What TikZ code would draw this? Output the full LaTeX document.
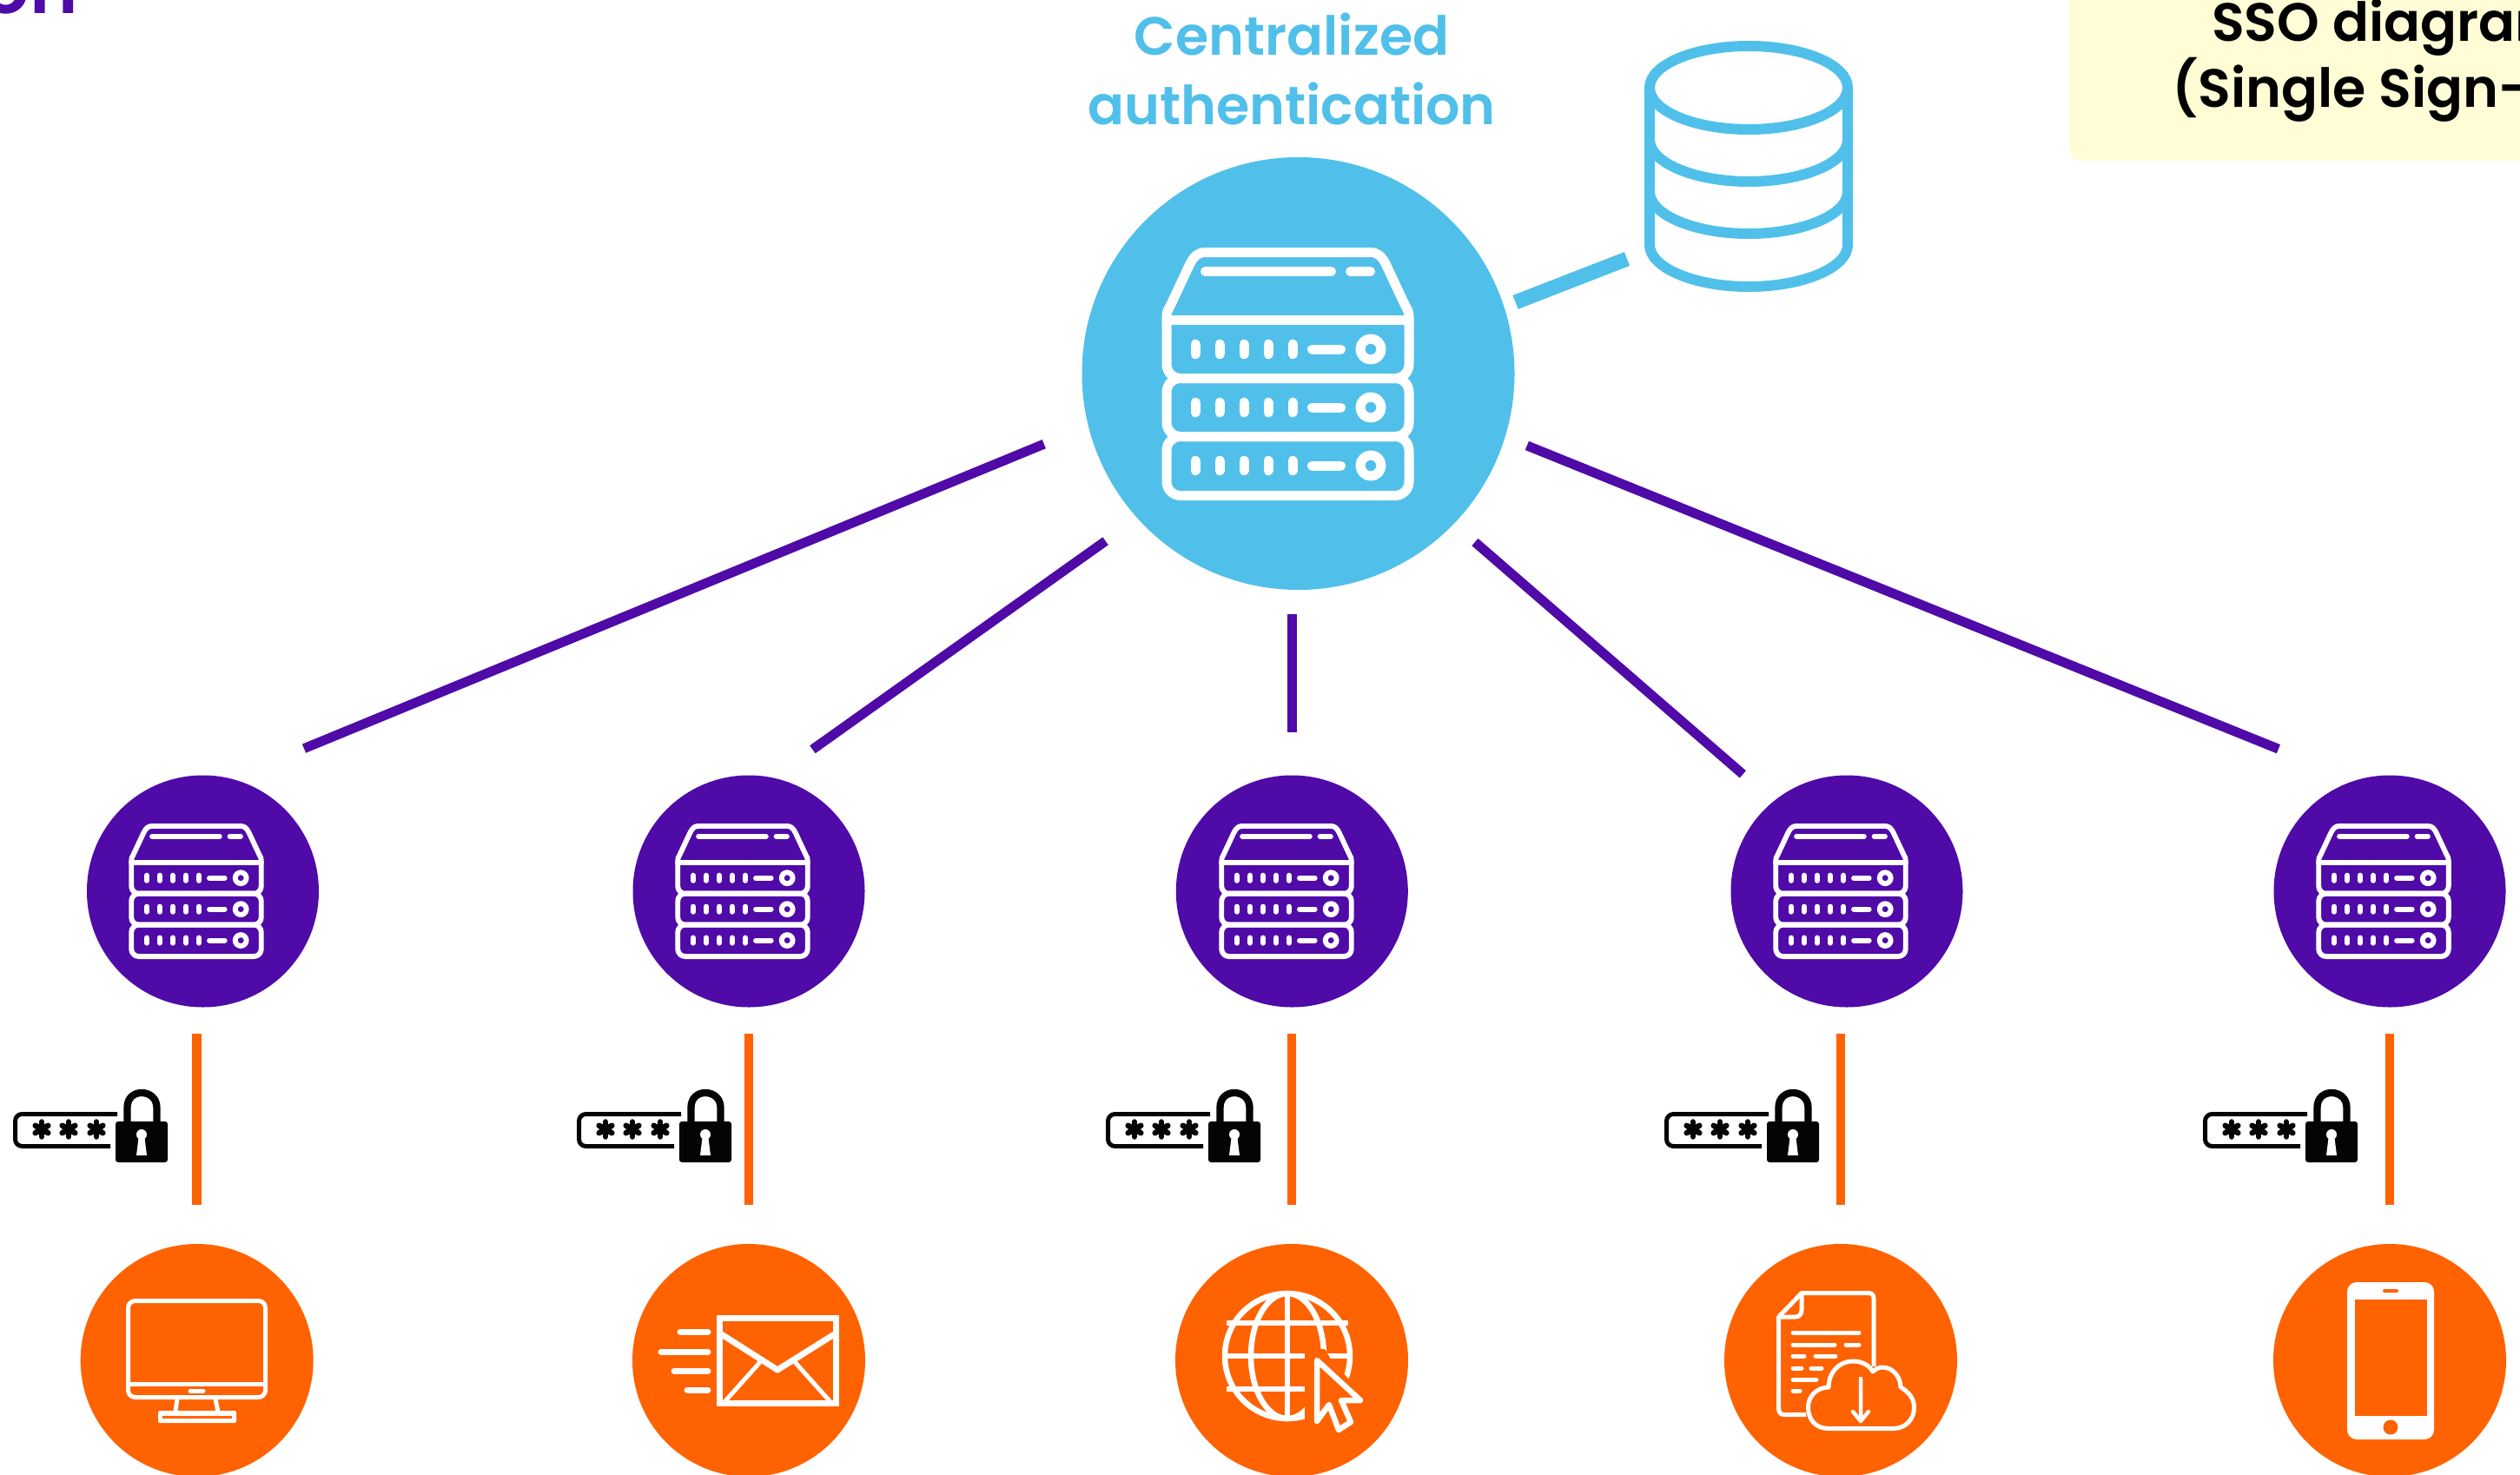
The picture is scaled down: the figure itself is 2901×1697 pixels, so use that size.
\documentclass[tikz,border=0pt]{standalone}
\usepackage{fontspec}
\setmainfont{Poppins}
\newfontfamily\semib{Poppins SemiBold}
\definecolor{ssoblue}{HTML}{50C0EA}
\definecolor{ssopurple}{HTML}{4F0AA8}
\definecolor{ssoorange}{HTML}{FF6200}
\definecolor{ssoyellow}{HTML}{FFFCD6}
\definecolor{ssoblack}{HTML}{030504}
\tikzset{
  x=1pt,y=-1pt,
  hubdisc/.style={circle,fill=ssoblue,draw=none,minimum size=498pt,inner sep=0pt},
  appdisc/.style={circle,fill=ssopurple,draw=none,minimum size=267pt,inner sep=0pt},
  clientdisc/.style={circle,fill=ssoorange,draw=none,minimum size=268pt,inner sep=0pt},
  purpleconn/.style={draw=ssopurple,line width=11pt},
  orangeconn/.style={draw=ssoorange,line width=10.5pt},
  dbconn/.style={draw=ssoblue,line width=17pt},
  wline/.style={draw=white,line width=5pt,line cap=round,line join=round},
  dbline/.style={draw=ssoblue,line width=12pt,line join=round},
  pics/serverpic/.style={code={
    \begin{scope}[scale=#1,draw=white,line width=#1*11pt,line cap=round,line join=round]
      \draw (-139.5,-62) -- (-139.5,-66) .. controls (-139.5,-71) and (-138,-74) .. (-135.5,-78) -- (-113,-126)
        .. controls (-108,-136) and (-103,-140) .. (-95,-140) -- (95,-140)
        .. controls (103,-140) and (108,-136) .. (113,-126) -- (135.5,-78)
        .. controls (138,-74) and (139.5,-71) .. (139.5,-66) -- (139.5,-62);
      \draw[rounded corners=#1*16pt] (-139.5,-62) -- (-139.5,5) -- (139.5,5) -- (139.5,-62);
      \draw (-139.5,-62) -- (139.5,-62);
      \draw[rounded corners=#1*16pt] (-139.5,5) rectangle (139.5,72);
      \draw[rounded corners=#1*16pt] (-139.5,72) rectangle (139.5,140);
      \draw (-95,-118) -- (50,-118) (72,-118) -- (95,-118);
      \foreach \yy in {-28.5,38.5,105.5}{
        \foreach \xx in {-106.5,-78.5,-50.5,-22.5,5.5}{
          \draw (\xx,\yy-5.8) -- (\xx,\yy+5.8);
        }
        \draw (28,\yy) -- (61,\yy);
        \draw[line cap=butt] (95.5,\yy) circle[radius=12];
      }
    \end{scope}
  }},
  pics/passlock/.style={code={
    \fill[ssoblack,rounded corners=3pt] (-60,1291) rectangle (0,1338);
    \draw[ssoblack,line width=8.3pt] (-46.5,1293) -- (-46.5,1275) .. controls (-46.5,1264) and (-39,1258) .. (-30,1258)
       .. controls (-21,1258) and (-12.5,1264) .. (-12.5,1275) -- (-12.5,1293);
    \fill[white] (-30,1306) circle[radius=6];
    \fill[white] (-33,1306) -- (-27,1306) -- (-24,1330) -- (-36,1330) -- cycle;
    \draw[ssoblack,line width=5pt,rounded corners=8pt] (-58,1282.5) -- (-175.5,1282.5) -- (-175.5,1319.5) -- (-66,1319.5);
    \foreach \ax in {-145,-114,-82}{
      \foreach \an in {0,60,120}{
        \draw[ssoblack,line width=6.5pt,line cap=round] ({\ax-8.5*cos(\an+90)},{1300-8.5*sin(\an+90)}) -- ({\ax+8.5*cos(\an+90)},{1300+8.5*sin(\an+90)});
      }
    }
  }}
}
\begin{document}
\begin{tikzpicture}
\clip (0,0) rectangle (2901,1697);
\useasboundingbox (0,0) rectangle (2901,1697);
\fill[white] (0,0) rectangle (2901,1697);

% title fragments
\node[anchor=base east,text=ssopurple,font=\semib\fontsize{84}{84}\selectfont,inner sep=0pt] (titlefrag) at (90,16) {on};
\fill[ssoyellow,rounded corners=13pt] (2382,-40) rectangle (2960,185);
\node[anchor=base west,font=\semib\fontsize{62}{62}\selectfont,inner sep=0pt] (ssoa) at (2546,47) {SSO diagram};
\node[anchor=base west,font=\semib\fontsize{62}{62}\selectfont,inner sep=0pt] (ssob) at (2500,123) {(Single Sign-On)};

\node[align=center,anchor=base,text=ssoblue,font=\semib\fontsize{62}{80}\selectfont,inner sep=0pt] (hubtitle) at (1487,143) {Centralized\\authentication};

% database
\draw[dbline] (2013,101) ellipse[x radius=114,y radius=48];
\draw[dbline] (1899,101) -- (1899,282) .. controls (1899,308) and (1950,330) .. (2013,330) .. controls (2076,330) and (2127,308) .. (2127,282) -- (2127,101);
\draw[dbline] (1899,161) .. controls (1899,187) and (1950,209) .. (2013,209) .. controls (2076,209) and (2127,187) .. (2127,161);
\draw[dbline] (1899,221) .. controls (1899,247) and (1950,269) .. (2013,269) .. controls (2076,269) and (2127,247) .. (2127,221);

% nodes
\node[hubdisc] (hub) at (1494.5,430) {};
\node[appdisc] (s1) at (233.5,1026) {};
\node[appdisc] (s2) at (862,1026) {};
\node[appdisc] (s3) at (1487.3,1026) {};
\node[appdisc] (s4) at (2126,1026) {};
\node[appdisc] (s5) at (2751,1026) {};
\node[clientdisc] (c1) at (226.7,1566) {};
\node[clientdisc] (c2) at (862,1566) {};
\node[clientdisc] (c3) at (1487,1566) {};
\node[clientdisc] (c4) at (2119,1566) {};
\node[clientdisc] (c5) at (2751,1566) {};
\coordinate (dbend) at (1873,298);

% connectors
\draw[dbconn,shorten <=14pt] (hub.18) -- (dbend);
\path[purpleconn,shorten <=55pt,shorten >=91pt] (hub.194.2) -- (s1.76.7);
\path[purpleconn,shorten <=45pt,shorten >=56pt] (hub.222.2) -- (s2.78.4);
\path[purpleconn,shorten <=27.5pt,shorten >=49pt] (s3.north |- hub.south) -- (s3.north);
\path[purpleconn,shorten <=32pt,shorten >=47pt] (hub.316.3) -- (s4.129.8);
\path[purpleconn,shorten <=27pt,shorten >=96pt] (hub.343.2) -- (s5.107);
\foreach \i in {1,...,5}{
  \path[orangeconn,shorten <=45pt,shorten >=30pt] (c\i.north) -- (c\i.north |- s\i.south);
}

% server icons
\pic at (1482.5,430.5) {serverpic=1};
\pic at (226,1026) {serverpic=0.536};
\pic at (855,1026) {serverpic=0.536};
\pic at (1481,1026) {serverpic=0.536};
\pic at (2119,1026) {serverpic=0.536};
\pic at (2744,1026) {serverpic=0.536};

% password locks
\pic at (193,0) {passlock};
\pic at (842,0) {passlock};
\pic at (1451,0) {passlock};
\pic at (2094,0) {passlock};
\pic at (2714,0) {passlock};

% monitor
\draw[wline,rounded corners=8pt] (147.5,1497.5) rectangle (305.5,1608.5);
\draw[wline,line cap=butt] (147.5,1593) -- (305.5,1593);
\draw[wline,line width=5pt] (219,1601) -- (234,1601);
\draw[wline,line cap=butt] (204,1610) -- (202,1625);
\draw[wline,line cap=butt] (248,1610) -- (251,1625);
\fill[white,rounded corners=2pt] (182,1624) rectangle (272,1638);
\fill[ssoorange] (187,1630) rectangle (267,1633);

% mail
\draw[wline,line width=7pt,line join=miter] (828.5,1517.5) rectangle (962.5,1615.5);
\draw[wline,line width=7pt,line cap=butt,line join=round] (829,1535) -- (895,1577) -- (962,1535);
\draw[wline,line width=5pt,line cap=butt] (875,1568) -- (833,1615);
\draw[wline,line width=5pt,line cap=butt] (915,1568) -- (957,1615);
\draw[wline,line width=7pt] (783,1533) -- (815,1533) (761,1556) -- (815,1556) (776,1578) -- (815,1578) (791,1600) -- (815,1600);

% globe
\begin{scope}[draw=white,line width=6.5pt]
\draw (1482,1561) circle[radius=72];
\draw (1482,1561) ellipse[x radius=42,y radius=72];
\draw (1482,1489) -- (1482,1633);
\draw (1412,1523) -- (1552,1523) (1410,1561) -- (1554,1561) (1412,1599) -- (1552,1599);
\end{scope}
\fill[ssoorange] (1502,1553) -- (1525,1553) -- (1534,1568) -- (1555,1590) -- (1580,1590) -- (1580,1660) -- (1502,1660) -- cycle;
\draw[wline,line width=6.5pt,line join=round] (1516,1566) -- (1516,1636) -- (1530,1617) -- (1541,1646) -- (1555,1637) -- (1544,1612) -- (1566,1612) -- cycle;

% document with cloud
\draw[wline,line cap=butt] (2157,1573) -- (2157,1495) .. controls (2157,1491) and (2155,1488.5) .. (2151,1488.5) -- (2074,1488.5) -- (2047.5,1516) -- (2047.5,1621) .. controls (2047.5,1626) and (2050,1628.5) .. (2054,1628.5) -- (2079,1628.5);
\draw[wline,line cap=butt] (2074,1488.5) -- (2074,1508) .. controls (2074,1513) and (2071,1516) .. (2067,1516) -- (2047.5,1516);
\draw[wline] (2064,1534) -- (2140,1534) (2064,1548) -- (2112,1548) (2125,1548) -- (2140,1548)
  (2064,1561) -- (2077,1561) (2090,1561) -- (2113,1561) (2064,1575) -- (2074,1575) (2085,1575) -- (2097,1575)
  (2064,1588) -- (2091,1588) (2064,1601) -- (2072,1601);
\draw[wline] (2105,1644.5) .. controls (2090,1644.5) and (2081.5,1634) .. (2081.5,1620) .. controls (2081.5,1607) and (2092,1597) .. (2105,1597)
  .. controls (2105,1580) and (2117,1567) .. (2133,1567) .. controls (2144,1567) and (2152,1572) .. (2156,1579)
  .. controls (2159,1576) and (2163,1574) .. (2167,1574) .. controls (2179,1574) and (2188,1585) .. (2188,1597)
  .. controls (2197,1602) and (2203.5,1610) .. (2203.5,1620) .. controls (2203.5,1634) and (2194,1644.5) .. (2179,1644.5) -- cycle;
\draw[wline,line width=4.5pt] (2142,1587) -- (2142,1636) (2133,1625) -- (2142,1636) -- (2151,1625);

% phone
\fill[white,rounded corners=11pt] (2702,1476) rectangle (2802,1657);
\fill[ssoorange] (2710.5,1496) rectangle (2793.5,1630);
\fill[ssoorange,rounded corners=2pt] (2743,1484) rectangle (2761,1488);
\fill[ssoorange] (2752,1643) circle[radius=8.5];
\end{tikzpicture}
\end{document}
